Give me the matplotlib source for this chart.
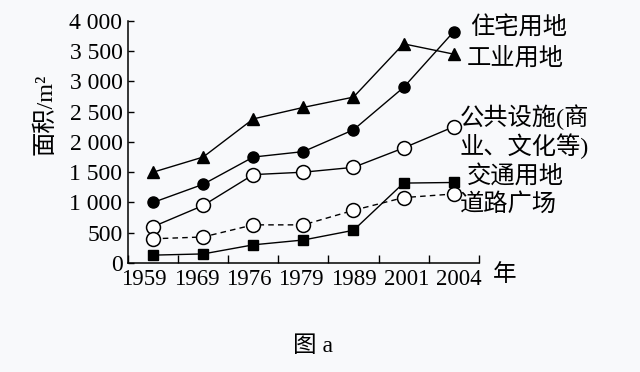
import matplotlib
matplotlib.use("Agg")
import matplotlib.pyplot as plt
import numpy as np

# ── data ──────────────────────────────────────────────────────────────────────
YEARS = ["1959", "1969", "1976", "1979", "1989", "2001", "2004"]
Y_TICKS = [0, 500, 1000, 1500, 2000, 2500, 3000, 3500, 4000]
Y_TICK_LABELS = ["0", "500", "1 000", "1 500", "2 000", "2 500", "3 000", "3 500", "4 000"]

residential = [1000, 1300, 1750, 1840, 2200, 2900, 3820]   # 住宅用地
industrial  = [1500, 1750, 2380, 2570, 2740, 3620, 3450]   # 工业用地
public      = [600, 950, 1460, 1500, 1580, 1900, 2250]     # 公共设施
transport   = [130, 150, 300, 380, 540, 1320, 1330]        # 交通用地
roads       = [400, 430, 630, 630, 870, 1080, 1140]        # 道路广场

CJK = ["Liberation Serif", "Noto Sans CJK SC", "DejaVu Sans"]
BG = "#f8f9fb"

# ── figure ────────────────────────────────────────────────────────────────────
fig = plt.figure(figsize=(6.4, 3.72), dpi=100, facecolor=BG)
ax = fig.add_axes([0.2, 0.293, 0.548, 0.651])
ax.set_facecolor(BG)

x = np.arange(len(YEARS))
line_kw = dict(color="black", linewidth=1.0)

ax.plot(x, industrial, marker="^", markersize=8, **line_kw)
ax.plot(x, residential, marker="o", markersize=8, **line_kw)
ax.plot(x, public, marker="o", markersize=10, markerfacecolor="white",
        markeredgewidth=1.1, **line_kw)
ax.plot(x, roads, marker="o", markersize=10, markerfacecolor="white",
        markeredgewidth=1.1, linestyle=(0, (4, 3)), **line_kw)
ax.plot(x, transport, marker="s", markersize=6.5, **line_kw)

# series labels next to the last points
labels = [
    (residential, "住宅用地", 16, 4),
    (industrial, "工业用地", 13, -4),
    (public, "公共设施(商\n业、文化等)", 6, -5),
    (transport, "交通用地", 13, 6),
    (roads, "道路广场", 6, -11),
]
for series, text, dx, dy in labels:
    ax.annotate(text, xy=(x[-1], series[-1]), xytext=(dx, dy),
                textcoords="offset pixels", ha="left", va="center",
                fontsize=17.5, family=CJK, linespacing=1.15)

# axes
ax.set_xlim(-0.5, 6.5)
ax.set_ylim(0, 4000)
# year labels are spread a little wider than the points, as in the print
ax.set_xticks(np.linspace(-0.18, 6.1, len(YEARS)))
ax.set_xticklabels(YEARS, family="Liberation Serif", fontsize=16.5)
ax.set_xticks(np.arange(-0.5, 7, 1), minor=True)
ax.tick_params(axis="x", which="major", length=0, pad=4)
ax.tick_params(axis="x", which="minor", direction="in", length=6, width=1)
ax.set_yticks(Y_TICKS)
ax.set_yticklabels(Y_TICK_LABELS, family="Liberation Serif", fontsize=17)
ax.tick_params(axis="y", direction="in", length=4, width=1, pad=4)

for side in ("top", "right"):
    ax.spines[side].set_visible(False)
for side in ("left", "bottom"):
    ax.spines[side].set_linewidth(1.1)

fig.text(45 / 640, 1 - 114 / 372, "面积/m²", family=CJK, fontsize=17.5,
         rotation=90, ha="center", va="center")
fig.text(505 / 640, 1 - 275 / 372, "年", family=CJK, fontsize=17,
         ha="center", va="center")
fig.text(313 / 640, 1 - 347 / 372, "图 a", family=CJK, fontsize=17,
         ha="center", va="center")

fig.savefig("out.png", dpi=100, facecolor=BG)
